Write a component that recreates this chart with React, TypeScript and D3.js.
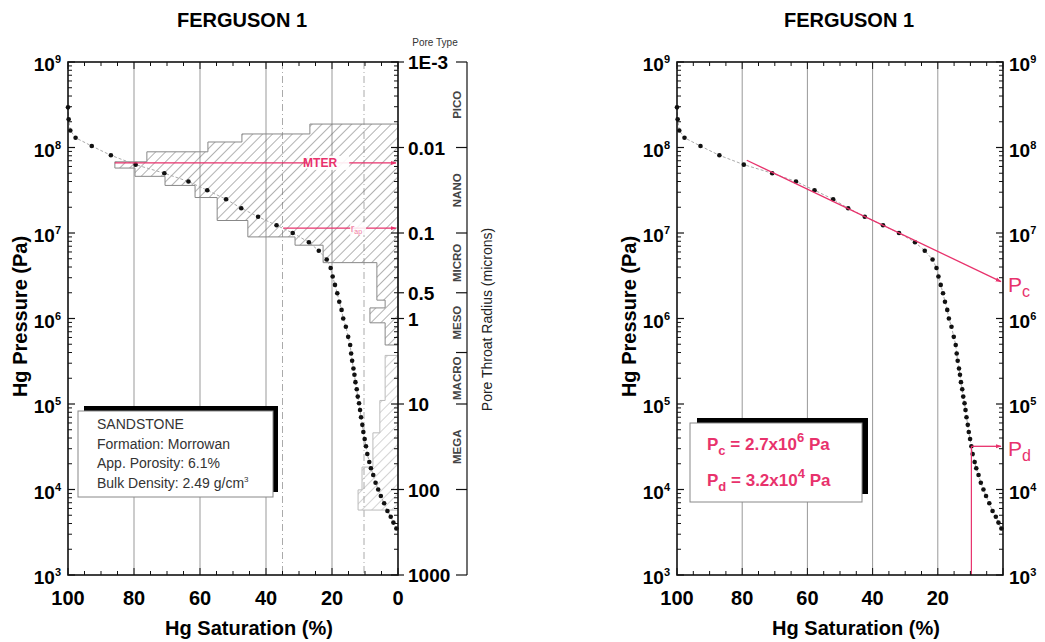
import React from "react";
import * as d3 from "d3";

// Hg injection curve (saturation %, pressure Pa)
const saturation = [
  100, 99.8, 99.3, 97.7, 92.8, 87.0, 79.5, 70.8, 63.5, 57.8, 52.1, 47.5, 42.4,
  36.8, 31.9, 27.0, 24.0, 21.6, 20.4, 19.8, 19.1, 18.4, 17.8, 17.1, 16.6, 15.8,
  15.1, 14.5, 14.2, 13.9, 13.5, 13.2, 12.9, 12.5, 12.2, 11.8, 11.5, 11.2, 10.8,
  10.5, 10.1, 9.7, 9.3, 8.7, 8.2, 7.5, 6.8, 6.0, 5.2, 4.2, 3.2, 2.2, 1.4, 0.5,
];
const pressure = [
  2.95e8, 2.14e8, 1.58e8, 1.3e8, 1.04e8, 8.1e7, 6.3e7, 5.0e7, 4.0e7, 3.16e7,
  2.48e7, 1.95e7, 1.55e7, 1.23e7, 1.0e7, 7.8e6, 6.2e6, 4.9e6, 3.9e6, 3.1e6,
  2.47e6, 1.97e6, 1.57e6, 1.26e6, 1.0e6, 8.0e5, 6.1e5, 4.9e5, 3.9e5, 3.2e5,
  2.6e5, 2.2e5, 1.8e5, 1.49e5, 1.22e5, 1.02e5, 8.5e4, 7.0e4, 5.7e4, 4.7e4,
  3.9e4, 3.2e4, 2.6e4, 2.1e4, 1.77e4, 1.48e4, 1.2e4, 1.0e4, 8.4e3, 6.9e3,
  5.6e3, 4.8e3, 4.1e3, 3.5e3,
];

// pore throat distribution, drawn as bands from 0 % leftwards
const binTop = [
  1.88e8, 1.44e8, 1.16e8, 8.9e7, 6.8e7, 5.75e7, 4.6e7, 3.6e7, 2.6e7, 1.4e7,
  9.0e6, 7.2e6, 4.5e6, 1.64e6, 1.33e6, 8.9e5, 3.7e5, 1.1e5, 4.6e4, 1.83e4, 9.9e3,
];
const binBottom = [
  1.44e8, 1.16e8, 8.9e7, 6.8e7, 5.75e7, 4.6e7, 3.6e7, 2.6e7, 1.4e7, 9.0e6,
  7.2e6, 4.5e6, 1.64e6, 1.33e6, 8.9e5, 4.9e5, 1.1e5, 4.6e4, 1.83e4, 9.9e3, 5.75e3,
];
const binSat = [
  26.7, 47.3, 57.6, 76.1, 85.8, 79.7, 70.6, 61.5, 54.8, 45.5, 31.2, 22.7, 6.4,
  3.9, 8.5, 3.9, 3.9, 5.5, 7.6, 10.9, 12.1,
];

const xMajor = [100, 80, 60, 40, 20, 0];
const gridSat = [80, 60, 40, 20];
const dashSat = [35, 10.3];
const decades = [3, 4, 5, 6, 7, 8, 9];
const radiusValues = [0.001, 0.01, 0.1, 0.5, 1, 10, 100, 1000];
const radiusLabels = ["1E-3", "0.01", "0.1", "0.5", "1", "10", "100", "1000"];
const poreTypes = ["PICO", "NANO", "MICRO", "MESO", "MACRO", "MEGA"];
const poreBounds = [0.001, 0.01, 0.1, 0.5, 2.5, 10, 100];
const infoLines = ["SANDSTONE", "Formation: Morrowan", "App. Porosity: 6.1%", "Bulk Density: 2.49 g/cm"];

const mterP = 6.6e7;
const mterSat = 85.8;
const rapP = 1.14e7;
const rapSat = 34.8;
const pcStart = [78.6, 7.1e7];
const pcValue = 2.7e6;
const pdValue = 3.2e4;
const pdSat = 9.7;

const PINK = "#e8326c";
const FONT = "'Liberation Sans', Arial, sans-serif";
const W = 1045;
const H = 642;

function minorLog() {
  const out: number[] = [];
  for (let d = 3; d < 9; d++) for (let m = 2; m < 10; m++) out.push(m * Math.pow(10, d));
  return out;
}

function DecadeLabel({ x, y, d, anchor }: { x: number; y: number; d: number; anchor: string }) {
  return (
    <text x={x} y={y} textAnchor={anchor} fontSize={19} fontWeight="bold" fontFamily={FONT}>
      10
      <tspan dy={-8} fontSize={11}>{d}</tspan>
    </text>
  );
}

function Panel({ x0, x1, y0, y1, left }: { x0: number; x1: number; y0: number; y1: number; left: boolean }) {
  const x = d3.scaleLinear().domain([100, 0]).range([x0, x1]);
  const y = d3.scaleLog().domain([1e3, 1e9]).range([y1, y0]);
  const r = d3.scaleLog().domain([0.001, 1000]).range([y0, y1]);
  const minors = minorLog();
  const xMinor = d3.range(0, 101, 5);
  const mid = (x0 + x1) / 2;

  const line = d3
    .line<number>()
    .x((_, i) => x(saturation[i]))
    .y((p) => y(p));

  // hatched outline, split into contiguous groups
  const groups: number[][] = [];
  binTop.forEach((t, i) => {
    if (i > 0 && binBottom[i - 1] === t) groups[groups.length - 1].push(i);
    else groups.push([i]);
  });
  const hatchPaths = groups.map((g) => {
    const p = d3.path();
    p.moveTo(x(0), y(binTop[g[0]]));
    g.forEach((i) => {
      p.lineTo(x(binSat[i]), y(binTop[i]));
      p.lineTo(x(binSat[i]), y(binBottom[i]));
    });
    p.lineTo(x(0), y(binBottom[g[g.length - 1]]));
    p.closePath();
    return { d: p.toString(), light: binTop[g[0]] < 5e5 };
  });

  return (
    <g fontFamily={FONT}>
      <text x={mid + 9} y={27} textAnchor="middle" fontSize={20} fontWeight="bold">FERGUSON 1</text>

      {gridSat.map((s) => (
        <line key={s} x1={x(s)} x2={x(s)} y1={y0} y2={y1} stroke="#999" strokeWidth={1} />
      ))}
      {left &&
        dashSat.map((s) => (
          <line key={s} x1={x(s)} x2={x(s)} y1={y0} y2={y1} stroke="#aaa" strokeWidth={1} strokeDasharray="7,3,1,3" />
        ))}

      {left &&
        hatchPaths.map((h, i) => (
          <path key={i} d={h.d} fill={h.light ? "url(#hatchLight)" : "url(#hatch)"} stroke={h.light ? "#bbb" : "#888"} strokeWidth={1} />
        ))}

      {/* curve */}
      <path d={line(pressure) ?? ""} fill="none" stroke="#aaa" strokeWidth={1} strokeDasharray="3,2" />
      {pressure.map((p, i) => (
        <circle key={i} cx={x(saturation[i])} cy={y(p)} r={2.3} fill="#111" />
      ))}

      {left && (
        <g>
          <line x1={x(mterSat)} x2={x(0) - 2} y1={y(mterP)} y2={y(mterP)} stroke={PINK} strokeWidth={1.3} markerEnd="url(#arrow)" />
          <rect x={x(27.5)} y={y(mterP) - 7} width={42} height={14} fill="#fff" opacity={0.9} />
          <text x={x(23.6)} y={y(mterP) + 4.5} textAnchor="middle" fontSize={12} fontWeight="bold" fill={PINK}>MTER</text>
          <line x1={x(rapSat)} x2={x(0) - 2} y1={y(rapP)} y2={y(rapP)} stroke={PINK} strokeWidth={1.3} markerEnd="url(#arrow)" />
          <rect x={x(14.5)} y={y(rapP) - 6} width={16} height={13} fill="#fff" opacity={0.85} />
          <text x={x(12.6)} y={y(rapP) + 4} textAnchor="middle" fontSize={11} fill="#f07aa0">
            r<tspan fontSize={7} dy={2}>ap</tspan>
          </text>
        </g>
      )}

      {!left && (
        <g>
          <line x1={x(pcStart[0])} y1={y(pcStart[1])} x2={x(0) - 2} y2={y(pcValue)} stroke={PINK} strokeWidth={1.3} markerEnd="url(#arrow)" />
          <text x={x1 + 5} y={y(pcValue) + 10} fontSize={21} fill={PINK}>
            P<tspan fontSize={16} dy={5}>c</tspan>
          </text>
          <line x1={x(pdSat)} x2={x(0) - 2} y1={y(pdValue)} y2={y(pdValue)} stroke={PINK} strokeWidth={1.3} markerEnd="url(#arrow)" />
          <line x1={x(pdSat)} x2={x(pdSat)} y1={y(pdValue)} y2={y1} stroke={PINK} strokeWidth={1.2} />
          <text x={x1 + 5} y={y(pdValue) + 10} fontSize={21} fill={PINK}>
            P<tspan fontSize={16} dy={5}>d</tspan>
          </text>
        </g>
      )}

      {/* info box */}
      {left ? (
        <g>
          <rect x={x0 + 16} y={406} width={194} height={86} fill="#000" />
          <rect x={x0 + 10} y={411} width={195} height={86} fill="#fff" stroke="#888" strokeWidth={1} />
          {infoLines.map((t, i) => (
            <text key={t} x={x0 + 29} y={429 + i * 19.7} fontSize={14} fill="#333">
              {t}
              {i === 3 && <tspan dy={-6} fontSize={8}>3</tspan>}
            </text>
          ))}
        </g>
      ) : (
        <g>
          <rect x={x0 + 20} y={418} width={171} height={76} fill="#000" />
          <rect x={x0 + 13} y={423} width={172} height={79} fill="#fff" stroke="#888" strokeWidth={1} />
          <text x={x0 + 30} y={450} fontSize={17} fontWeight="bold" fill={PINK}>
            P<tspan fontSize={13} dy={5}>c</tspan>
            <tspan dy={-5}> = 2.7x10</tspan>
            <tspan fontSize={13} dy={-8}>6</tspan>
            <tspan dy={8}> Pa</tspan>
          </text>
          <text x={x0 + 30} y={486} fontSize={17} fontWeight="bold" fill={PINK}>
            P<tspan fontSize={13} dy={5}>d</tspan>
            <tspan dy={-5}> = 3.2x10</tspan>
            <tspan fontSize={13} dy={-8}>4</tspan>
            <tspan dy={8}> Pa</tspan>
          </text>
        </g>
      )}

      {/* frame and ticks */}
      <rect x={x0} y={y0} width={x1 - x0} height={y1 - y0} fill="none" stroke="#111" strokeWidth={1.6} />
      {xMinor.map((s) => {
        const len = s % 20 === 0 ? 7 : 4;
        return (
          <g key={s}>
            <line x1={x(s)} x2={x(s)} y1={y1} y2={y1 - len} stroke="#111" />
            <line x1={x(s)} x2={x(s)} y1={y0} y2={y0 + len} stroke="#111" />
          </g>
        );
      })}
      {decades.map((d) => (
        <g key={d}>
          <line x1={x0} x2={x0 + 7} y1={y(10 ** d)} y2={y(10 ** d)} stroke="#111" strokeWidth={1.2} />
          <line x1={x1} x2={x1 - 7} y1={y(10 ** d)} y2={y(10 ** d)} stroke="#111" strokeWidth={1.2} />
        </g>
      ))}
      {minors.map((v) => (
        <g key={v}>
          <line x1={x0} x2={x0 + 4} y1={y(v)} y2={y(v)} stroke="#111" />
          <line x1={x1} x2={x1 - 4} y1={y(v)} y2={y(v)} stroke="#111" />
        </g>
      ))}

      {decades.map((d) => (
        <DecadeLabel key={d} x={x0 - 7} y={y(10 ** d) + 9} d={d} anchor="end" />
      ))}
      {!left && decades.map((d) => <DecadeLabel key={d} x={x1 + 6} y={y(10 ** d) + 9} d={d} anchor="start" />)}

      {xMajor
        .filter((s) => left || s !== 0)
        .map((s) => (
          <text key={s} x={x(s)} y={y1 + 30} textAnchor="middle" fontSize={20} fontWeight="bold">{s}</text>
        ))}
      <text x={mid + 16} y={y1 + 60} textAnchor="middle" fontSize={20} fontWeight="bold">Hg Saturation (%)</text>
      <text transform={`translate(${x0 - 41},${(y0 + y1) / 2 - 2}) rotate(-90)`} textAnchor="middle" fontSize={20} fontWeight="bold">
        Hg Pressure (Pa)
      </text>

      {left && (
        <g>
          {radiusValues.map((v, i) => (
            <g key={v}>
              <line x1={x1} x2={x1 + 6} y1={r(v)} y2={r(v)} stroke="#111" strokeWidth={1.2} />
              <text x={x1 + 10} y={r(v) + 7} fontSize={19} fontWeight="bold">{radiusLabels[i]}</text>
            </g>
          ))}
          <line x1={x1 + 69} x2={x1 + 69} y1={y0} y2={y1} stroke="#111" strokeWidth={1.2} />
          {[...poreBounds, 1000].map((b) => (
            <line key={b} x1={x1 + 58} x2={x1 + 69} y1={r(b)} y2={r(b)} stroke="#111" strokeWidth={1.2} />
          ))}
          {poreTypes.map((t, i) => {
            const cy = (r(poreBounds[i]) + r(poreBounds[i + 1])) / 2;
            return (
              <text key={t} transform={`translate(${x1 + 63},${cy}) rotate(-90)`} textAnchor="middle" fontSize={11.5} fontWeight="bold" fill="#444">
                {t}
              </text>
            );
          })}
          <text x={x1 + 37} y={46} textAnchor="middle" fontSize={10} fill="#333">Pore Type</text>
          <text transform={`translate(${x1 + 94},${(y0 + y1) / 2 + 1}) rotate(-90)`} textAnchor="middle" fontSize={14} fill="#222">
            Pore Throat Radius (microns)
          </text>
        </g>
      )}
    </g>
  );
}

export default function App() {
  return (
    <svg width={W} height={H} style={{ position: "absolute", left: 0, top: 0, background: "#fff" }}>
      <defs>
        <pattern id="hatch" width={7} height={7} patternUnits="userSpaceOnUse" patternTransform="rotate(45)">
          <line x1={0} y1={0} x2={0} y2={7} stroke="#666" strokeWidth={1} />
        </pattern>
        <pattern id="hatchLight" width={7} height={7} patternUnits="userSpaceOnUse" patternTransform="rotate(45)">
          <line x1={0} y1={0} x2={0} y2={7} stroke="#aaa" strokeWidth={1} />
        </pattern>
        <marker id="arrow" viewBox="0 0 10 10" refX={9} refY={5} markerWidth={6} markerHeight={6} orient="auto" markerUnits="userSpaceOnUse">
          <path d="M0,1.5 L10,5 L0,8.5 z" fill={PINK} />
        </marker>
      </defs>
      <rect width={W} height={H} fill="#fff" />
      <Panel x0={68} x1={398} y0={62} y1={575} left={true} />
      <Panel x0={677} x1={1003} y0={62} y1={575} left={false} />
    </svg>
  );
}
